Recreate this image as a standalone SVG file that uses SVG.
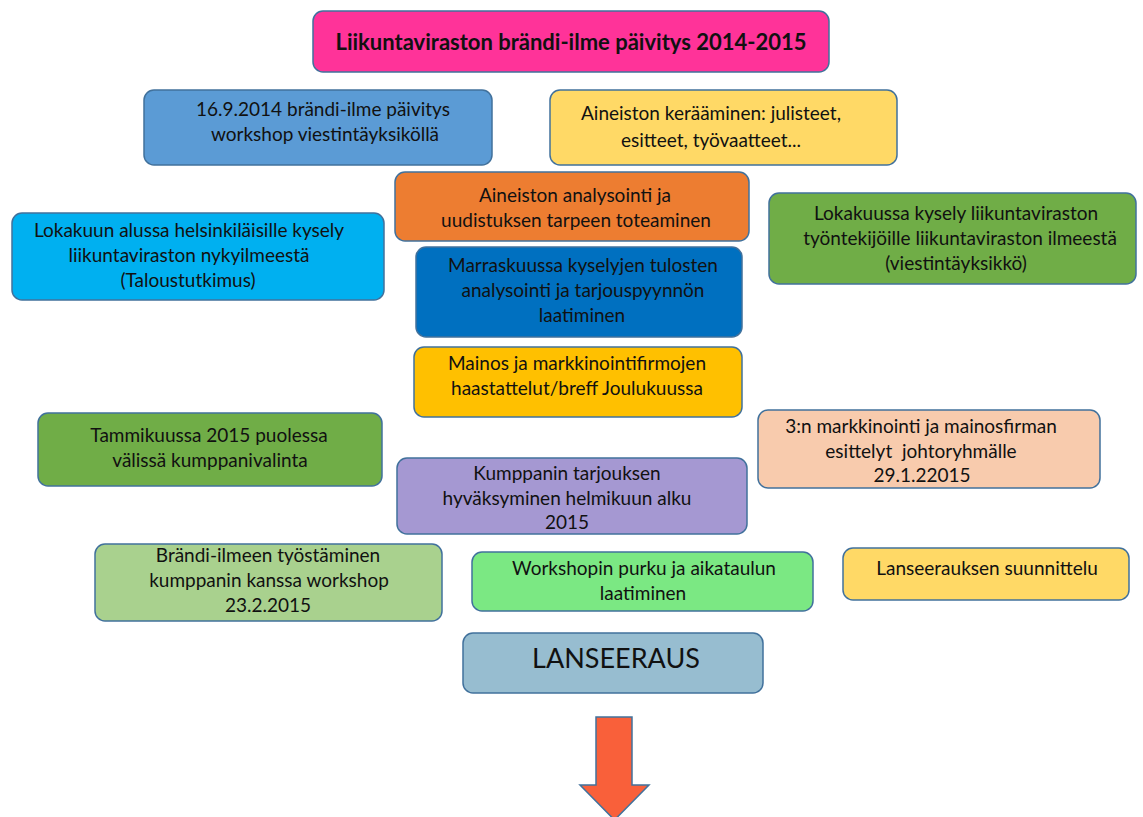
<svg xmlns="http://www.w3.org/2000/svg" width="1143" height="817" viewBox="0 0 1143 817">
<style>
.box{stroke:#41719C;stroke-width:1.5}
text{font-family:Lato,"Open Sans","Noto Sans",sans-serif;font-size:19px;fill:#111;text-anchor:middle}
.title{font-weight:bold;font-size:22px}
.big{font-size:27px}
</style>
<rect width="1143" height="817" fill="#fff"/>
<g id="title"><rect class="box" x="313" y="11" width="516" height="61" rx="10" fill="#FF3399"/><text class="title" x="571" y="50">Liikuntaviraston brändi-ilme päivitys 2014-2015</text></g>
<g id="workshop"><rect class="box" x="144" y="90" width="348" height="75" rx="10" fill="#5B9BD5"/><text x="323" y="116">16.9.2014 brändi-ilme päivitys</text><text x="325" y="141">workshop viestintäyksiköllä</text></g>
<g id="aineisto"><rect class="box" x="550" y="90" width="347" height="75" rx="10" fill="#FFD966"/><text x="711" y="120">Aineiston kerääminen: julisteet,</text><text x="711" y="147">esitteet, työvaatteet...</text></g>
<g id="analysointi"><rect class="box" x="395" y="172" width="354" height="69" rx="10" fill="#ED7D31"/><text x="575" y="202">Aineiston analysointi ja</text><text x="576" y="227">uudistuksen tarpeen toteaminen</text></g>
<g id="kysely-helsinki"><rect class="box" x="12" y="213" width="372" height="87" rx="10" fill="#00B0F0"/><text x="189" y="237">Lokakuun alussa helsinkiläisille kysely</text><text x="189" y="262">liikuntaviraston nykyilmeestä</text><text x="188" y="287">(Taloustutkimus)</text></g>
<g id="kysely-tyontekijat"><rect class="box" x="769" y="193" width="367" height="91" rx="10" fill="#70AD47"/><text x="956" y="220">Lokakuussa kysely liikuntaviraston</text><text x="960" y="245">työntekijöille liikuntaviraston ilmeestä</text><text x="956" y="270">(viestintäyksikkö)</text></g>
<g id="marraskuu"><rect class="box" x="416" y="247" width="326" height="90" rx="10" fill="#0070C0"/><text x="583" y="272">Marraskuussa kyselyjen tulosten</text><text x="583" y="297">analysointi ja tarjouspyynnön</text><text x="582" y="322">laatiminen</text></g>
<g id="haastattelut"><rect class="box" x="414" y="347" width="328" height="70" rx="10" fill="#FFC000"/><text x="577" y="370">Mainos ja markkinointifirmojen</text><text x="577" y="395">haastattelut/breff Joulukuussa</text></g>
<g id="tammikuu"><rect class="box" x="38" y="413" width="344" height="73" rx="10" fill="#70AD47"/><text x="209" y="442">Tammikuussa 2015 puolessa</text><text x="210" y="467">välissä kumppanivalinta</text></g>
<g id="esittelyt"><rect class="box" x="758" y="410" width="342" height="78" rx="10" fill="#F8CBAD"/><text x="921" y="433">3:n markkinointi ja mainosfirman</text><text x="921" y="458" xml:space="preserve">esittelyt  johtoryhmälle</text><text x="922" y="482">29.1.22015</text></g>
<g id="tarjous"><rect class="box" x="397" y="458" width="350" height="76" rx="10" fill="#A598D2"/><text x="567" y="480">Kumppanin tarjouksen</text><text x="567" y="505">hyväksyminen helmikuun alku</text><text x="567" y="529">2015</text></g>
<g id="tyostaminen"><rect class="box" x="95" y="544" width="347" height="77" rx="10" fill="#A9D18E"/><text x="268" y="562">Brändi-ilmeen työstäminen</text><text x="269" y="587">kumppanin kanssa workshop</text><text x="268" y="612">23.2.2015</text></g>
<g id="purku"><rect class="box" x="472" y="552" width="341" height="59" rx="10" fill="#7BE883"/><text x="644" y="575">Workshopin purku ja aikataulun</text><text x="643" y="600">laatiminen</text></g>
<g id="suunnittelu"><rect class="box" x="843" y="548" width="286" height="52" rx="10" fill="#FFD966"/><text x="987" y="575">Lanseerauksen suunnittelu</text></g>
<g id="lanseeraus"><rect class="box" x="463" y="633" width="300" height="60" rx="10" fill="#97BDD0"/><text class="big" x="616" y="668">LANSEERAUS</text></g>
<g id="connectors"><path class="box" d="M596,717 H632 V785 H649 L614.5,820 L580,785 H596 Z" fill="#F9603A"/></g>
</svg>
